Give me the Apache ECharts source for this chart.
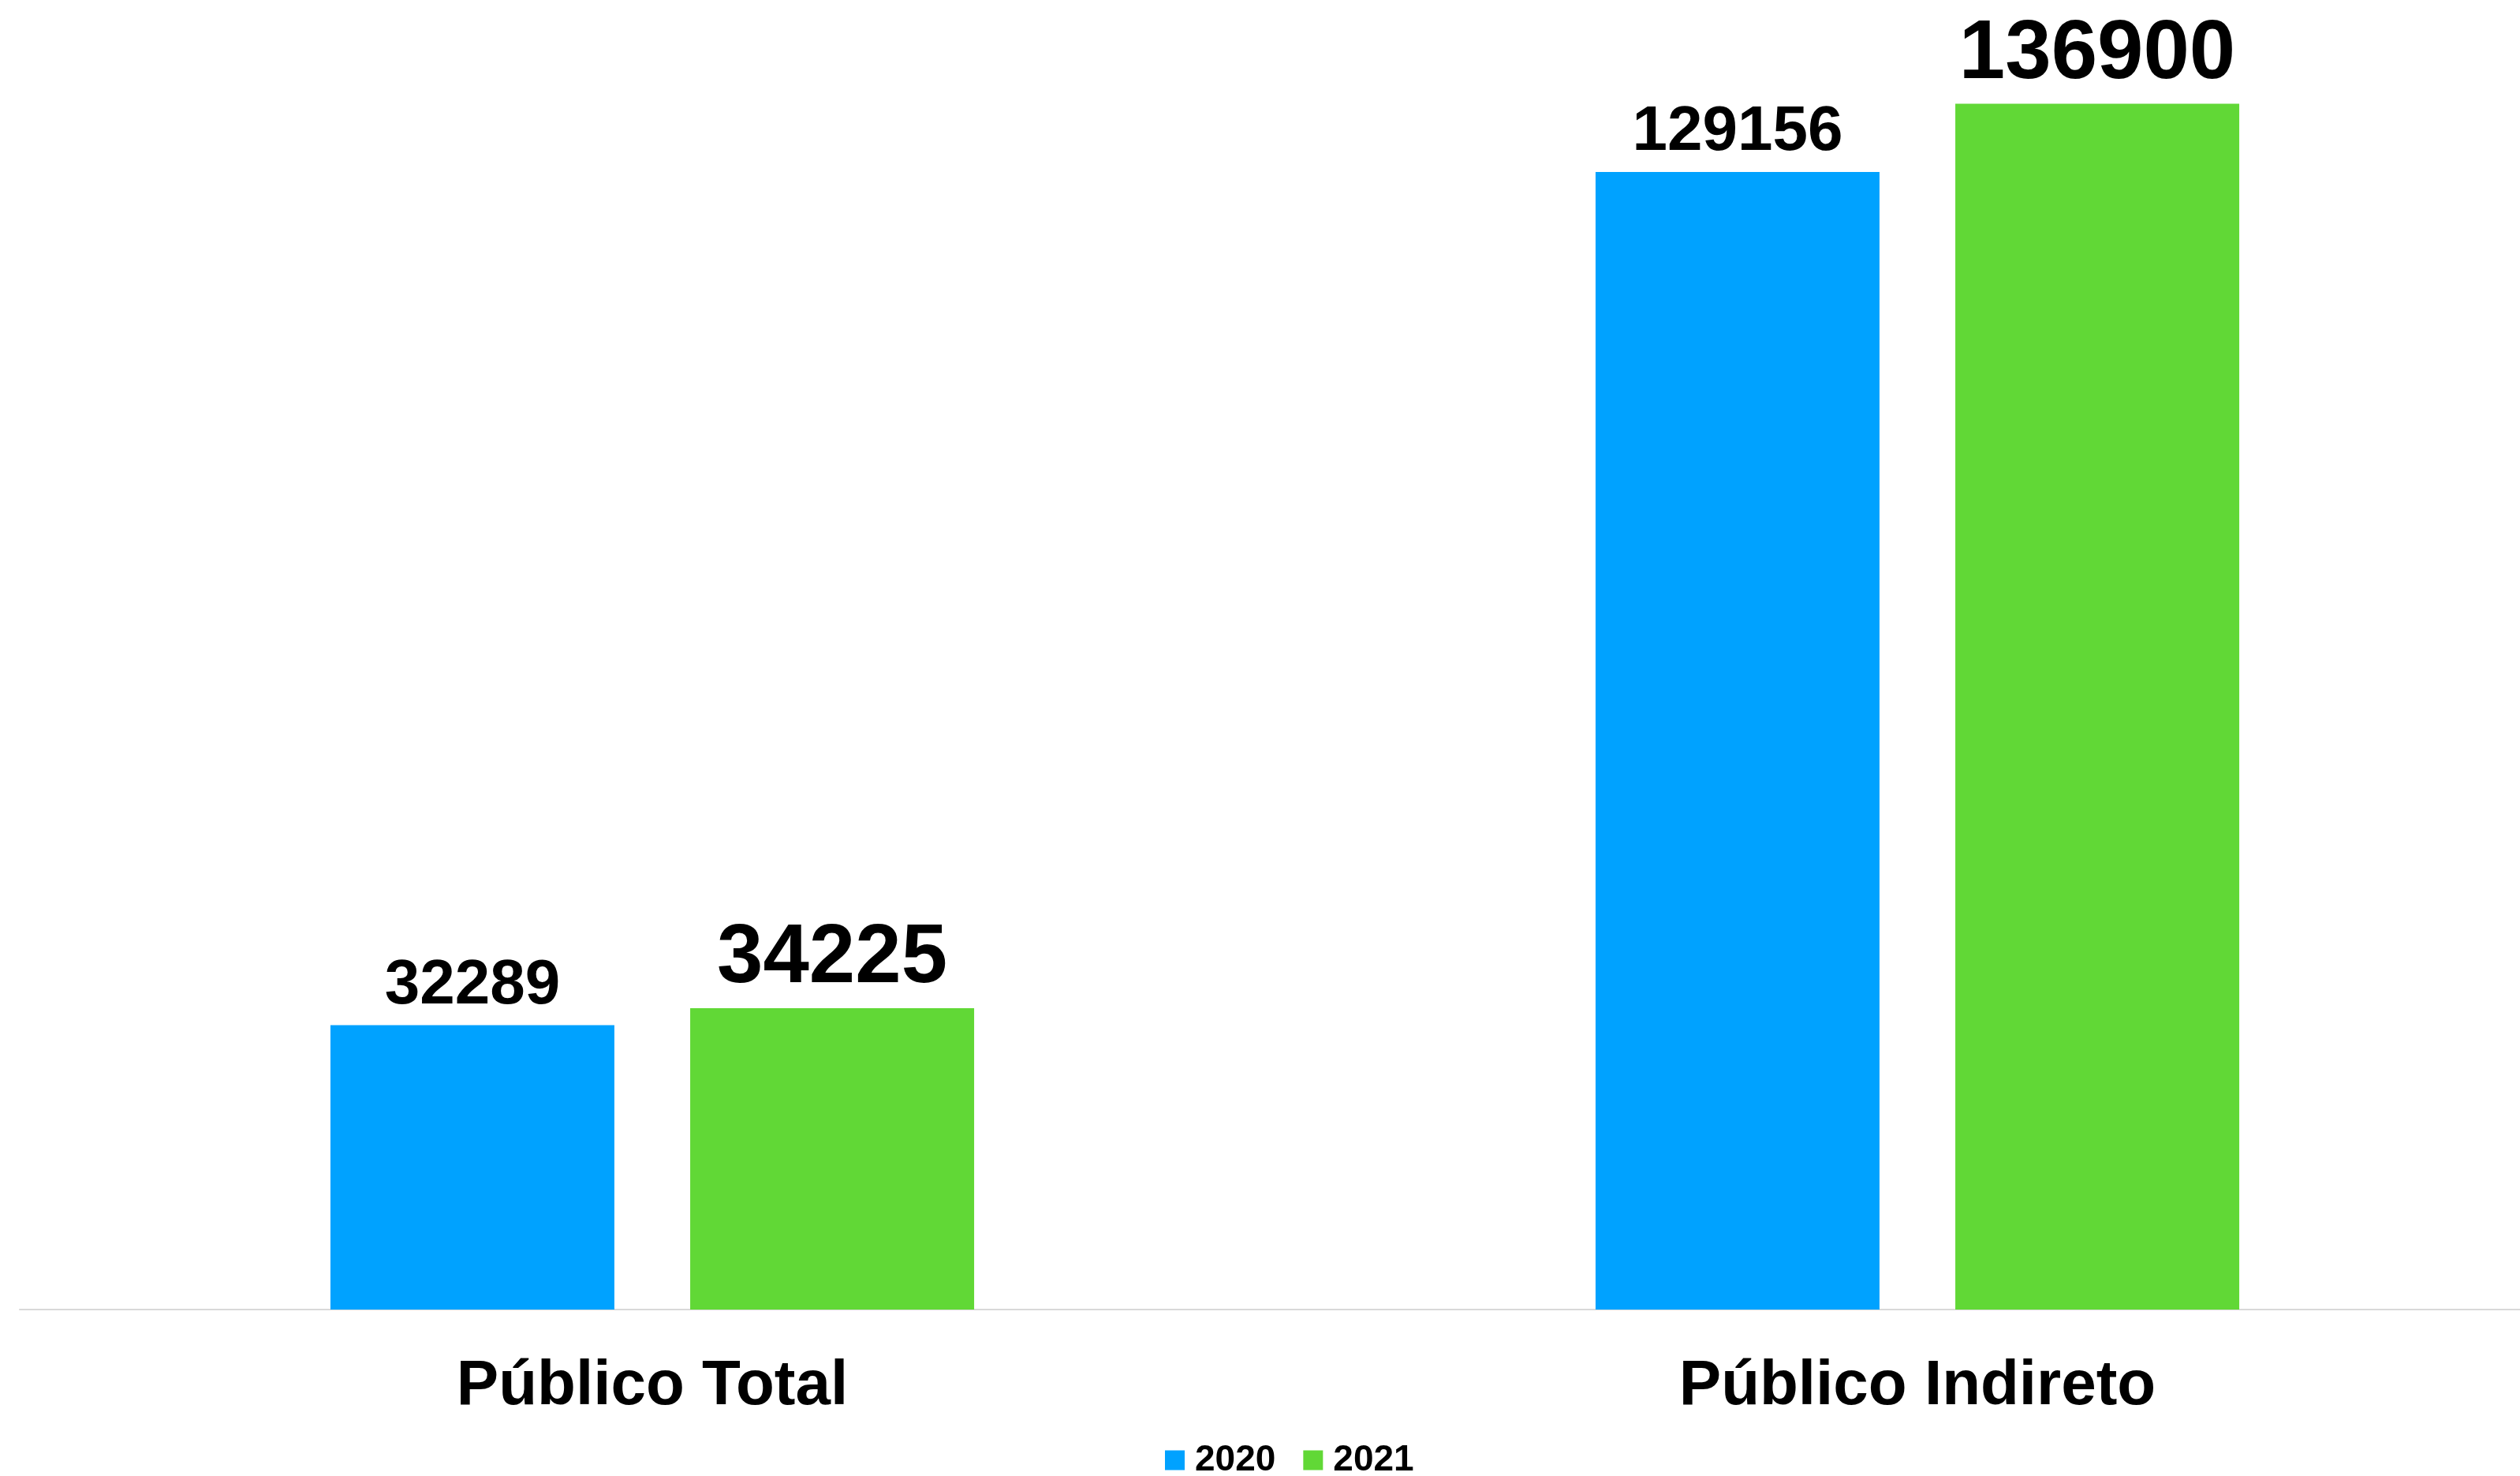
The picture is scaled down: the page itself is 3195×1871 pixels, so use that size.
<!DOCTYPE html>
<html>
<head>
<meta charset="utf-8">
<script src="https://cdn.jsdelivr.net/npm/echarts@6/dist/echarts.min.js"></script>
<style>
  html, body { margin: 0; padding: 0; background: #fff; }
  #chart { width: 3195px; height: 1871px; }
</style>
</head>
<body>
<div id="chart"></div>
<script>
const categories = ['Público Total', 'Público Indireto'];
const years = ['2020', '2021'];
const data2020 = [32289, 129156];
const data2021 = [34225, 136900];

const font = '"Liberation Sans", Arial, sans-serif';

const chart = echarts.init(document.getElementById('chart'));
chart.setOption({
  animation: false,
  color: ['#00A2FF', '#61D836'],
  // plot area runs a bit past the right edge, as in the original
  grid: {
    left: 25,
    width: 3208,
    top: 97,
    bottom: 211,
    outerBoundsMode: 'none'
  },
  legend: {
    data: years,
    left: 1477,
    top: 1828,
    padding: 0,
    icon: 'rect',
    itemWidth: 25,
    itemHeight: 25,
    itemGap: 35,
    textStyle: {
      color: '#000',
      fontSize: 46,
      fontWeight: 'bold',
      fontFamily: font,
      padding: [0, 0, 0, 8]
    }
  },
  xAxis: {
    type: 'category',
    data: categories,
    axisTick: { show: false },
    axisLine: {
      lineStyle: { color: '#D9D9D9', width: 2 }
    },
    axisLabel: {
      margin: 58,
      color: '#000',
      fontSize: 80,
      fontWeight: 'bold',
      fontFamily: font
    }
  },
  yAxis: {
    type: 'value',
    min: 0,
    max: 140000,
    show: false,
    splitLine: { show: false }
  },
  series: [
    {
      name: years[0],
      type: 'bar',
      barWidth: 360,
      barGap: '26.7%',
      data: data2020,
      label: {
        show: true,
        position: 'top',
        distance: 10,
        color: '#000',
        fontSize: 80,
        fontWeight: 'bold',
        fontFamily: font
      }
    },
    {
      name: years[1],
      type: 'bar',
      barWidth: 360,
      barGap: '26.7%',
      data: data2021,
      label: {
        show: true,
        position: 'top',
        distance: 9,
        color: '#000',
        fontSize: 105,
        fontWeight: 'bold',
        fontFamily: font
      }
    }
  ]
});
</script>
</body>
</html>
